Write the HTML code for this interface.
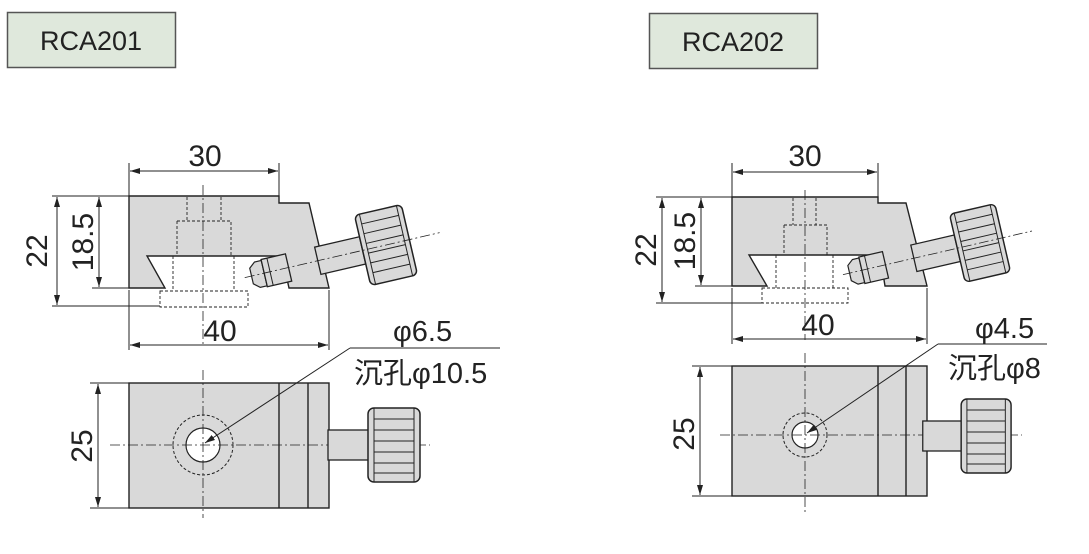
<!DOCTYPE html>
<html><head><meta charset="utf-8"><style>
html,body{margin:0;padding:0;background:#fff;}
svg{display:block;}
text{font-family:"Liberation Sans","Noto Sans CJK SC",sans-serif;fill:#222;}
</style></head><body>
<svg width="1089" height="554" viewBox="0 0 1089 554" xmlns="http://www.w3.org/2000/svg">
<defs>
<marker id="a" viewBox="0 0 10 6" refX="10" refY="3" markerWidth="10" markerHeight="6" orient="auto-start-reverse" markerUnits="userSpaceOnUse"><path d="M0,0 L10,3 L0,6 z" fill="#222"/></marker>
<g id="knob">
  <rect x="-70" y="-14" width="46" height="28" fill="#d9d9d9" stroke="#222" stroke-width="1.3"/>
  <rect x="-24" y="-36" width="48" height="72" rx="5" fill="#d9d9d9" stroke="#222" stroke-width="1.5"/>
  <line x1="-19" y1="-36" x2="-19" y2="36" stroke="#222"/>
  <line x1="19" y1="-36" x2="19" y2="36" stroke="#222"/>
  <g stroke="#222" stroke-width="1">
   <line x1="-19" y1="-26" x2="19" y2="-26"/><line x1="-19" y1="-16" x2="19" y2="-16"/>
   <line x1="-19" y1="-6" x2="19" y2="-6"/><line x1="-19" y1="4" x2="19" y2="4"/>
   <line x1="-19" y1="14" x2="19" y2="14"/><line x1="-19" y1="24" x2="19" y2="24"/>
  </g>
</g>
<g id="nut">
  <path d="M-138,-8 L-132,-13 H-125 V13 H-132 L-138,8 Z" fill="#d9d9d9" stroke="#222" stroke-width="1.2"/>
  <rect x="-125" y="-14" width="25" height="28" fill="#d9d9d9" stroke="#222" stroke-width="1.3"/>
  <line x1="-119" y1="-14" x2="-119" y2="14" stroke="#222"/>
  <line x1="-145" y1="0" x2="55" y2="0" stroke="#222" stroke-width="0.8" stroke-dasharray="10,3,2,3"/>
</g>
<g id="knobTop">
  <rect x="-44" y="-15" width="44" height="30" fill="#d9d9d9" stroke="#222" stroke-width="1.3"/>
  <rect x="-4" y="-37" width="52" height="74" rx="6" fill="#d9d9d9" stroke="#222" stroke-width="1.5"/>
  <line x1="2" y1="-37" x2="2" y2="37" stroke="#222"/><line x1="42" y1="-37" x2="42" y2="37" stroke="#222"/>
  <g stroke="#222"><line x1="2" y1="-26" x2="42" y2="-26"/><line x1="2" y1="-15" x2="42" y2="-15"/><line x1="2" y1="-4" x2="42" y2="-4"/><line x1="2" y1="7" x2="42" y2="7"/><line x1="2" y1="18" x2="42" y2="18"/><line x1="2" y1="28" x2="42" y2="28"/></g>
</g>
</defs>

<!-- labels -->
<rect x="7.5" y="12.5" width="168" height="55" fill="#dfe8dc" stroke="#555" stroke-width="1.5"/>
<text x="91" y="50" font-size="27" text-anchor="middle">RCA201</text>
<rect x="649.5" y="13.5" width="168" height="55" fill="#dfe8dc" stroke="#555" stroke-width="1.5"/>
<text x="733" y="51" font-size="27" text-anchor="middle">RCA202</text>

<g stroke="#222" fill="none" stroke-width="1">
<!-- ===== LEFT side view ===== -->
<path d="M129,196 H279 V203 H309 L329,288 H289 L282,256 H147 L165,288 H129 Z" fill="#d9d9d9" stroke="#222" stroke-width="1.4"/>
<g stroke-dasharray="3,2" stroke-width="0.9">
 <path d="M187,197 V221 M221,197 V221 M177,221 H231 V256 M177,221 V256"/>
 <path d="M173,256 V291 M234,256 V291 M160,291 H248 V307 H160 Z"/>
</g>
<line x1="203" y1="185" x2="203" y2="345" stroke-width="0.8" stroke-dasharray="10,3,2,3"/>
<line x1="129" y1="163" x2="129" y2="196"/><line x1="279" y1="163" x2="279" y2="196"/>
<line x1="130" y1="171" x2="278" y2="171" marker-start="url(#a)" marker-end="url(#a)"/>
<line x1="129" y1="290" x2="129" y2="350"/><line x1="329" y1="290" x2="329" y2="350"/>
<line x1="130" y1="345" x2="328" y2="345" marker-start="url(#a)" marker-end="url(#a)"/>
<line x1="52" y1="196" x2="129" y2="196"/><line x1="52" y1="306" x2="160" y2="306"/>
<line x1="57" y1="197" x2="57" y2="305" marker-start="url(#a)" marker-end="url(#a)"/>
<line x1="92" y1="288" x2="165" y2="288"/>
<line x1="99" y1="197" x2="99" y2="287" marker-start="url(#a)" marker-end="url(#a)"/>
</g>
<use href="#knob" transform="translate(386,245) rotate(-13)"/>
<use href="#nut" transform="translate(386,245) rotate(-13)"/>
<text x="205" y="166" font-size="30" text-anchor="middle">30</text>
<text x="220" y="341" font-size="30" text-anchor="middle">40</text>
<text transform="translate(47,251) rotate(-90)" font-size="30" text-anchor="middle">22</text>
<text transform="translate(93,242) rotate(-90)" font-size="30" text-anchor="middle">18.5</text>

<!-- LEFT top view -->
<g stroke="#222" fill="none" stroke-width="1">
<rect x="129" y="383" width="200" height="125" fill="#d9d9d9" stroke-width="1.4"/>
<line x1="279" y1="383" x2="279" y2="508" stroke-width="1.4"/><line x1="308" y1="383" x2="308" y2="508" stroke-width="1.4"/>
<circle cx="203" cy="445" r="30" stroke-dasharray="3,2"/>
<circle cx="203" cy="445" r="17" fill="#fff" stroke-width="1.2"/>
<line x1="110" y1="445" x2="430" y2="445" stroke-width="0.8" stroke-dasharray="10,3,2,3"/>
<line x1="203" y1="370" x2="203" y2="518" stroke-width="0.8" stroke-dasharray="10,3,2,3"/>
<line x1="90" y1="383" x2="129" y2="383"/><line x1="90" y1="508" x2="129" y2="508"/>
<line x1="98" y1="384" x2="98" y2="507" marker-start="url(#a)" marker-end="url(#a)"/>
<polyline points="350,348 500,348" />
<line x1="350" y1="348" x2="205" y2="443" marker-end="url(#a)"/>
</g>
<use href="#knobTop" transform="translate(372,445)"/>
<text transform="translate(92,446) rotate(-90)" font-size="30" text-anchor="middle">25</text>
<text x="393" y="341" font-size="29">φ6.5</text>
<text x="354" y="383" font-size="29">沉孔φ10.5</text>

<!-- ===== RIGHT side view ===== -->
<g stroke="#222" fill="none" stroke-width="1">
<path d="M732,197 H878 V203 H906 L927,286 H885 L880,255 H749 L767,286 H732 Z" fill="#d9d9d9" stroke="#222" stroke-width="1.4"/>
<g stroke-dasharray="3,2" stroke-width="0.9">
 <path d="M793,198 V225 M816,198 V225 M784,225 H827 V255 M784,225 V255"/>
 <path d="M776,255 V288 M833,255 V288 M762,288 H848 V303 H762 Z"/>
</g>
<line x1="805" y1="190" x2="805" y2="340" stroke-width="0.8" stroke-dasharray="10,3,2,3"/>
<line x1="732" y1="163" x2="732" y2="197"/><line x1="878" y1="163" x2="878" y2="197"/>
<line x1="733" y1="172" x2="877" y2="172" marker-start="url(#a)" marker-end="url(#a)"/>
<line x1="732" y1="288" x2="732" y2="344"/><line x1="927" y1="288" x2="927" y2="344"/>
<line x1="733" y1="339" x2="926" y2="339" marker-start="url(#a)" marker-end="url(#a)"/>
<line x1="656" y1="197" x2="732" y2="197"/><line x1="656" y1="303" x2="762" y2="303"/>
<line x1="662" y1="198" x2="662" y2="302" marker-start="url(#a)" marker-end="url(#a)"/>
<line x1="695" y1="286" x2="767" y2="286"/>
<line x1="701" y1="198" x2="701" y2="285" marker-start="url(#a)" marker-end="url(#a)"/>
</g>
<use href="#knob" transform="translate(980,243) rotate(-13) scale(0.97)"/>
<use href="#nut" transform="translate(980,243) rotate(-13) scale(0.97)"/>
<text x="805" y="166" font-size="30" text-anchor="middle">30</text>
<text x="818" y="335" font-size="30" text-anchor="middle">40</text>
<text transform="translate(656,250) rotate(-90)" font-size="30" text-anchor="middle">22</text>
<text transform="translate(695,241) rotate(-90)" font-size="30" text-anchor="middle">18.5</text>

<!-- RIGHT top view -->
<g stroke="#222" fill="none" stroke-width="1">
<rect x="732" y="366" width="195" height="130" fill="#d9d9d9" stroke-width="1.4"/>
<line x1="878" y1="366" x2="878" y2="496" stroke-width="1.4"/><line x1="906" y1="366" x2="906" y2="496" stroke-width="1.4"/>
<circle cx="805" cy="435" r="22" stroke-dasharray="3,2"/>
<circle cx="805" cy="435" r="13" fill="#fff" stroke-width="1.2"/>
<line x1="720" y1="435" x2="1022" y2="435" stroke-width="0.8" stroke-dasharray="10,3,2,3"/>
<line x1="805" y1="353" x2="805" y2="512" stroke-width="0.8" stroke-dasharray="10,3,2,3"/>
<line x1="692" y1="366" x2="732" y2="366"/><line x1="692" y1="496" x2="732" y2="496"/>
<line x1="700" y1="367" x2="700" y2="495" marker-start="url(#a)" marker-end="url(#a)"/>
<polyline points="938,344 1047,344"/>
<line x1="938" y1="344" x2="807" y2="433" marker-end="url(#a)"/>
</g>
<use href="#knobTop" transform="translate(965,436) scale(0.96,1)"/>
<text transform="translate(694,434) rotate(-90)" font-size="30" text-anchor="middle">25</text>
<text x="975" y="338" font-size="29">φ4.5</text>
<text x="948" y="378" font-size="29">沉孔φ8</text>
</svg>
</body></html>
